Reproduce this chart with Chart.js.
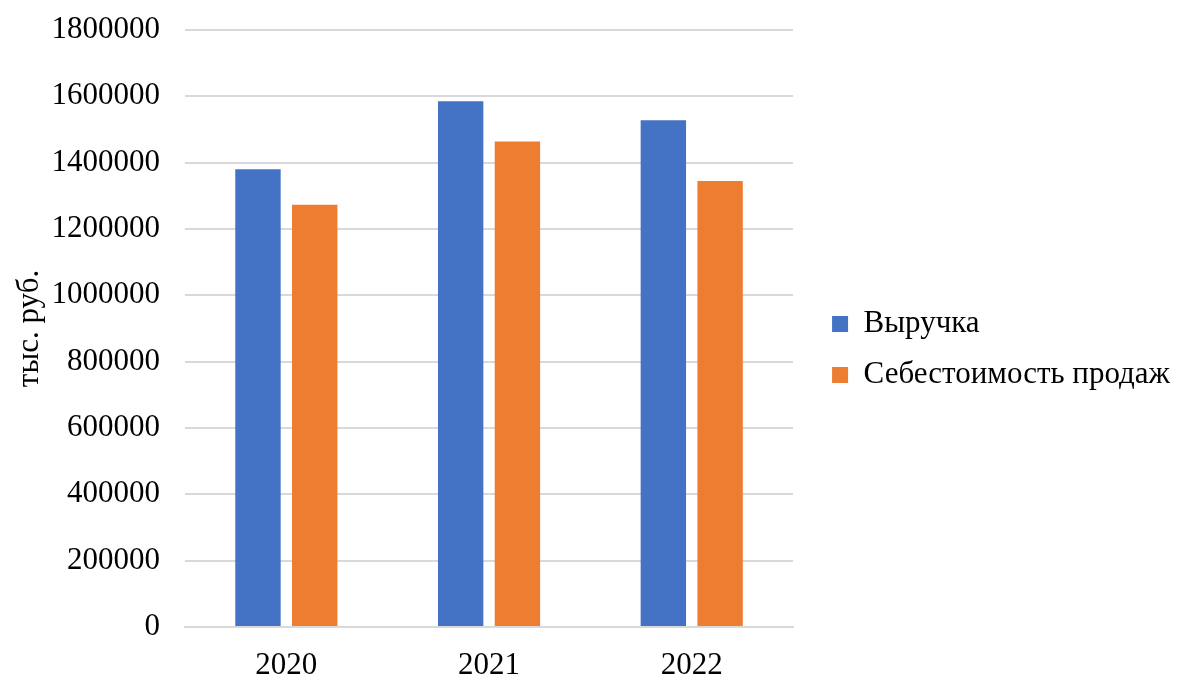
<!DOCTYPE html>
<html>
<head>
<meta charset="utf-8">
<script src="https://cdn.jsdelivr.net/npm/chart.js@4.4.1/dist/chart.umd.min.js"></script>
<style>
html,body{margin:0;padding:0;background:#fff;}
#wrap{width:1178px;height:675px;position:relative;}
</style>
</head>
<body>
<div id="wrap"><canvas id="c" width="1178" height="675"></canvas></div>
<script>
const categories = ["2020", "2021", "2022"];
const revenue = [1380000, 1585000, 1528000];
const costOfSales = [1273000, 1464000, 1345000];
const seriesNames = ["Выручка", "Себестоимость продаж"];
const yTitle = "тыс. руб.";
const yMin = 0, yMax = 1800000, yStep = 200000;

const FONT = "'Liberation Serif', 'Times New Roman', serif";
Chart.defaults.font.family = FONT;
Chart.defaults.color = "#000";

const legendShift = {
  id: 'legendShift',
  afterLayout(chart) {
    const l = chart.legend;
    const dx = 19, dy = 12;
    l.left += dx; l.right += dx; l.top += dy; l.bottom += dy;
  }
};

new Chart(document.getElementById('c'), {
  type: 'bar',
  data: {
    labels: categories,
    datasets: [
      { label: seriesNames[0], data: revenue, backgroundColor: '#4472C4', categoryPercentage: 0.56, barPercentage: 0.8 },
      { label: seriesNames[1], data: costOfSales, backgroundColor: '#ED7D31', categoryPercentage: 0.56, barPercentage: 0.8 }
    ]
  },
  plugins: [legendShift],
  options: {
    responsive: false,
    animation: false,
    layout: { padding: { left: 7, right: 17, top: 0, bottom: 0 } },
    plugins: {
      tooltip: { enabled: false },
      legend: {
        position: 'right',
        maxWidth: 500,
        labels: {
          font: { size: 31, family: FONT },
          color: '#000',
          boxWidth: 16,
          boxHeight: 16,
          padding: 20
        }
      }
    },
    scales: {
      x: {
        grid: { display: false },
        border: { display: true, color: '#d9d9d9', width: 2 },
        ticks: { font: { size: 31, family: FONT }, color: '#000', padding: 12 },
        afterFit(s) { s.height = 48; }
      },
      y: {
        min: yMin, max: yMax,
        ticks: { stepSize: yStep, font: { size: 31, family: FONT }, color: '#000', padding: 25,
                 callback: (v) => String(v) },
        grid: { color: '#d9d9d9', lineWidth: 2, drawTicks: false },
        border: { display: false },
        title: { display: true, text: yTitle, font: { size: 31, family: FONT }, color: '#000', padding: 4 },
        afterFit(s) { s.width = 178; s.paddingTop = 30; s.paddingBottom = 0; }
      }
    }
  }
});
</script>
</body>
</html>
